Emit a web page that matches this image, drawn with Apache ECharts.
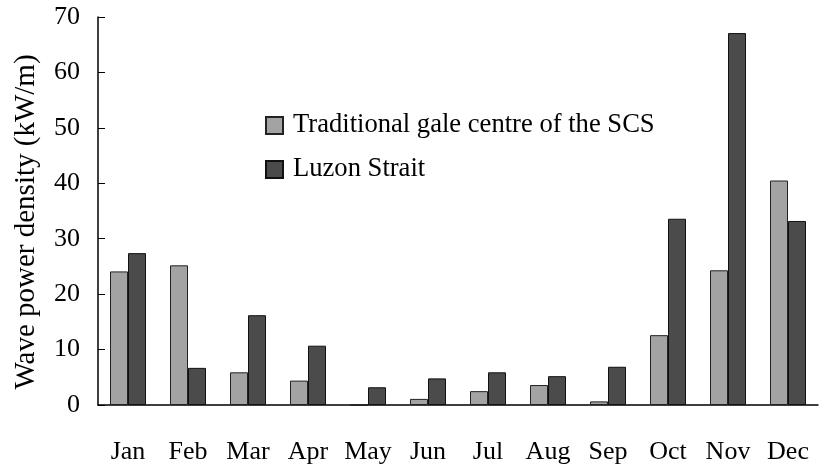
<!DOCTYPE html>
<html>
<head>
<meta charset="utf-8">
<title>Wave power density</title>
<script src="https://cdn.jsdelivr.net/npm/echarts@6/dist/echarts.min.js"></script>
<style>
  html, body { margin: 0; padding: 0; background: #fff; }
  #chart { width: 819px; height: 467px; }
</style>
</head>
<body>
<div id="chart"></div>
<script>
var months = ['Jan', 'Feb', 'Mar', 'Apr', 'May', 'Jun', 'Jul', 'Aug', 'Sep', 'Oct', 'Nov', 'Dec'];
var galeCentre = [24.1, 25.2, 5.9, 4.4, 0, 1.1, 2.5, 3.6, 0.65, 12.6, 24.3, 40.5];
var luzonStrait = [27.4, 6.7, 16.2, 10.7, 3.2, 4.8, 5.9, 5.2, 6.9, 33.6, 67.1, 33.2];
var yTicks = [0, 10, 20, 30, 40, 50, 60, 70];

var FONT = '"Liberation Serif", "DejaVu Serif", serif';

var chart = echarts.init(document.getElementById('chart'));

var option = {
    animation: false,
    textStyle: { fontFamily: FONT, color: '#000' },
    grid: { left: 98, right: 1, top: 17, bottom: 62, containLabel: false, outerBoundsMode: 'none' },
    legend: {
        orient: 'vertical',
        left: 260,
        top: 107,
        itemWidth: 17,
        itemHeight: 17,
        itemGap: 17,
        icon: 'rect',
        textStyle: { fontFamily: FONT, fontSize: 26.6, color: '#000', padding: [0, 0, 0, 5] },
        data: ['Traditional gale centre of the SCS', 'Luzon Strait']
    },
    xAxis: {
        type: 'category',
        data: months,
        axisLine: { lineStyle: { color: '#000', width: 1.5 } },
        axisTick: { show: false },
        axisLabel: { fontFamily: FONT, fontSize: 26, color: '#000', margin: 34, interval: 0 }
    },
    yAxis: {
        type: 'value',
        min: yTicks[0],
        max: yTicks[yTicks.length - 1],
        interval: 10,
        name: 'Wave power density (kW/m)',
        nameLocation: 'middle',
        nameGap: 57,
        nameTextStyle: { fontFamily: FONT, fontSize: 29, color: '#000', padding: [0, 22, 0, 0] },
        axisLine: { show: true, lineStyle: { color: '#000', width: 1.5 } },
        axisTick: { show: true, inside: true, length: 7, lineStyle: { color: '#000' } },
        axisLabel: { fontFamily: FONT, fontSize: 26, color: '#000', margin: 18 },
        splitLine: { show: false }
    },
    series: [
        {
            name: 'Traditional gale centre of the SCS',
            type: 'bar',
            data: galeCentre,
            barWidth: 18,
            barGap: '0%',
            itemStyle: { color: '#a3a3a3', borderColor: '#222', borderWidth: 1 }
        },
        {
            name: 'Luzon Strait',
            type: 'bar',
            data: luzonStrait,
            barWidth: 18,
            itemStyle: { color: '#4b4b4b', borderColor: '#111', borderWidth: 1 }
        }
    ]
};

chart.setOption(option);
</script>
</body>
</html>
